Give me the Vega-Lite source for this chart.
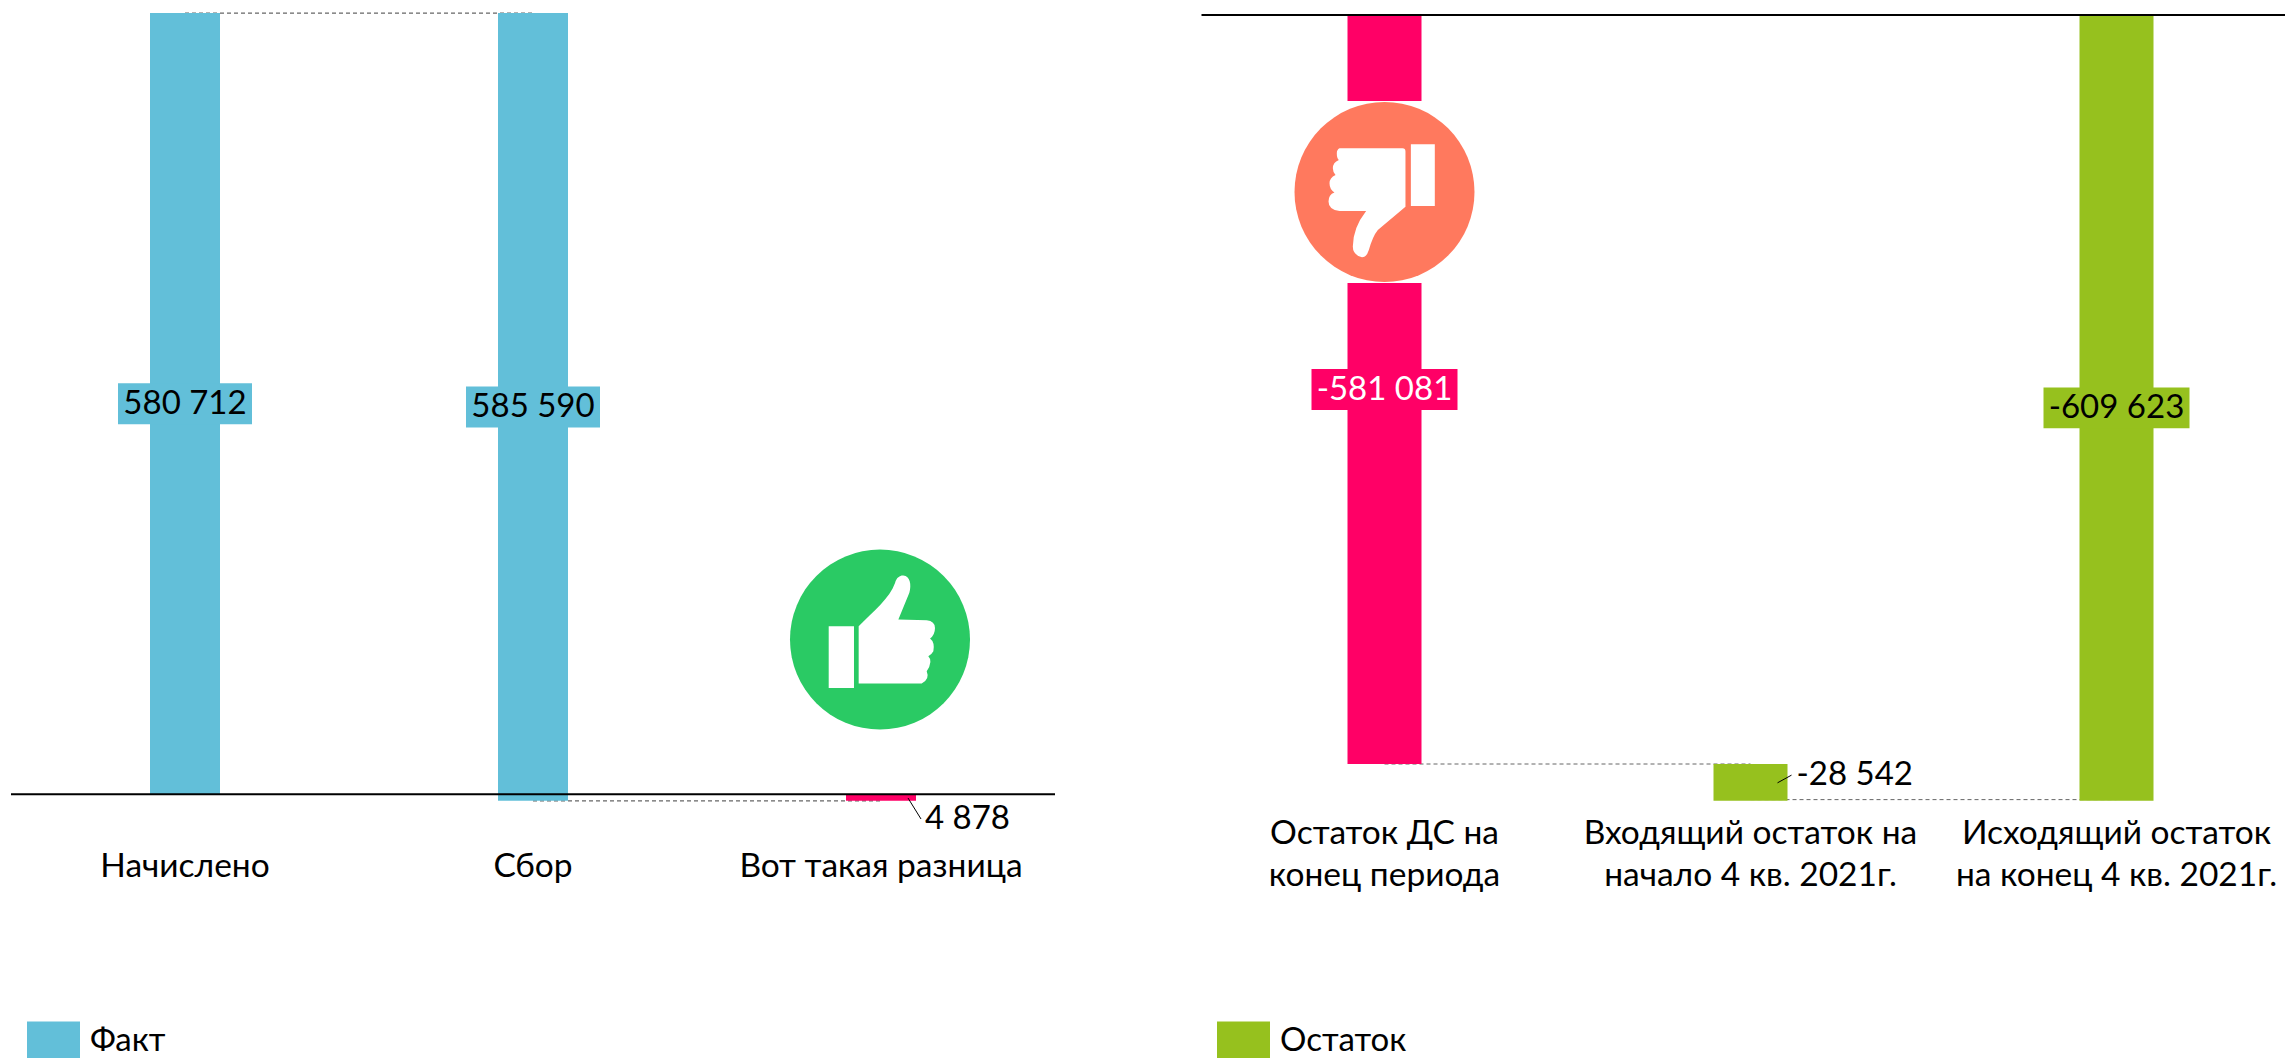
{
"$schema":"https://vega.github.io/schema/vega-lite/v6.json",
"background":"white",
"padding":{"left":10,"top":0,"right":0,"bottom":0},
"spacing":144.5,
"resolve":{"scale":{"color":"independent"},"legend":{"color":"independent"}},
"config":{"view":{"stroke":null},"font":"Lato","text":{"font":"Lato"},"axisY":{"disable":true}},
"datasets":{
"left":[
{"cat":"Начислено","start":0,"end":580712,"mid":290356,"label":"580 712","series":"Факт"},
{"cat":"Сбор","start":-4878,"end":580712,"mid":287917,"label":"585 590","series":"Факт"},
{"cat":"Вот такая разница","start":0,"end":-4878,"mid":-2439,"label":"4 878","series":"Разница"}],
"right":[
{"cat":"Остаток ДС на конец  периода","start":0,"end":-581081,"mid":-290540,"label":"-581 081","series":"Остаток ДС"},
{"cat":"Входящий  остаток на начало 4 кв. 2021г.","start":-581081,"end":-609623,"mid":-595352,"label":"-28 542","series":"Остаток"},
{"cat":"Исходящий остаток на конец 4 кв. 2021г.","start":0,"end":-609623,"mid":-304811,"label":"-609 623","series":"Остаток"}]
},
"hconcat":[
{"width":1044,"height":845,
"layer":[
{"data":{"values":[{"a":"Начислено","b":"Сбор","v":580712},{"a":"Сбор","b":"Вот такая разница","v":-4878}]},
 "mark":{"type":"rule","stroke":"#666666","strokeWidth":1.2,"strokeDash":[4,3]},
 "encoding":{"x":{"field":"a","type":"nominal","sort":["Начислено","Сбор","Вот такая разница"],"scale":{"paddingInner":0,"paddingOuter":0},"axis":{"title":null,"domain":false,"ticks":false,"labelAngle":0,"labelFont":"Lato","labelFontSize":33.5,"labelColor":"black","labelPadding":5,"labelLimit":500}},"x2":{"field":"b"},"y":{"field":"v","type":"quantitative","scale":{"domain":[-37684,590395],"nice":false,"zero":false}}}},
{"data":{"name":"left"},"mark":{"type":"bar","size":70},
 "encoding":{"x":{"field":"cat","type":"nominal","sort":null},"y":{"field":"start","type":"quantitative"},"y2":{"field":"end"},
 "color":{"field":"series","type":"nominal","scale":{"domain":["Факт","Разница"],"range":["#62BFD9","#FF0066"]},
 "legend":{"values":["Факт"],"orient":"none","legendX":16,"legendY":1014,"title":null,"symbolType":"M-1,-0.72H1V0.72H-1Z","symbolSize":2809,"symbolStrokeWidth":0,"symbolOpacity":1,"labelFont":"Lato","labelFontSize":33,"labelColor":"black","labelOffset":10}}}},
{"data":{"name":"left"},"transform":[{"filter":"datum.series=='Факт'"}],"mark":{"type":"point","shape":"M-1,-0.306H1V0.306H-1Z","size":17956,"filled":true,"opacity":1,"fill":"#62BFD9","strokeWidth":0},
 "encoding":{"x":{"field":"cat","type":"nominal","sort":null},"y":{"field":"mid","type":"quantitative"}}},
{"data":{"name":"left"},"transform":[{"filter":"datum.series=='Факт'"}],"mark":{"type":"text","font":"Lato","fontSize":33,"fill":"black"},
 "encoding":{"x":{"field":"cat","type":"nominal","sort":null},"y":{"field":"mid","type":"quantitative"},"text":{"field":"label"}}},
{"data":{"values":[{"cat":"Вот такая разница","v":115000}]},"mark":{"type":"point","shape":"circle","size":32400,"filled":true,"opacity":1,"fill":"#2ACA64","strokeWidth":0,"xOffset":-1},"encoding":{"x":{"field":"cat","type":"nominal","sort":null},"y":{"field":"v","type":"quantitative"}}},
{"data":{"values":[{"cat":"Вот такая разница","v":115000}]},"mark":{"type":"point","shape":"M-0.57,-0.148H-0.289V0.537H-0.57ZM-0.237,-0.148C-0.074,-0.315 0.111,-0.463 0.167,-0.63C0.185,-0.696 0.23,-0.715 0.259,-0.711C0.333,-0.704 0.352,-0.611 0.326,-0.519L0.204,-0.222L0.519,-0.215Q0.611,-0.204 0.611,-0.13Q0.611,-0.056 0.556,-0.011Q0.611,0.03 0.593,0.13Q0.57,0.17 0.537,0.185Q0.593,0.24 0.519,0.352Q0.556,0.44 0.463,0.489H-0.237Z","size":32400,"filled":true,"opacity":1,"fill":"white","strokeWidth":0,"xOffset":-1},"encoding":{"x":{"field":"cat","type":"nominal","sort":null},"y":{"field":"v","type":"quantitative"}}},
{"data":{"name":"left"},"transform":[{"filter":"datum.series=='Разница'"}],"mark":{"type":"text","font":"Lato","fontSize":33,"fill":"black","align":"left","xOffset":44},
 "encoding":{"x":{"field":"cat","type":"nominal","sort":null},"y":{"datum":-18400,"type":"quantitative"},"text":{"field":"label"}}},
{"data":{"name":"left"},"transform":[{"filter":"datum.series=='Разница'"}],"mark":{"type":"point","shape":"M-0.62,-1L0.62,1","size":441,"filled":false,"opacity":1,"stroke":"black","strokeWidth":1,"xOffset":33.5},
 "encoding":{"x":{"field":"cat","type":"nominal","sort":null},"y":{"datum":-10550,"type":"quantitative"}}},
{"data":{"values":[{"v":0}]},"mark":{"type":"rule","stroke":"black","strokeWidth":2},"encoding":{"y":{"field":"v","type":"quantitative"}}}
]},
{"width":1084,"height":810,
"layer":[
{"data":{"values":[{"a":"Остаток ДС на конец  периода","b":"Входящий  остаток на начало 4 кв. 2021г.","v":-581081},{"a":"Входящий  остаток на начало 4 кв. 2021г.","b":"Исходящий остаток на конец 4 кв. 2021г.","v":-608700}]},
 "mark":{"type":"rule","stroke":"#666666","strokeWidth":1,"strokeDash":[4,3]},
 "encoding":{"x":{"field":"a","type":"nominal","sort":["Остаток ДС на конец  периода","Входящий  остаток на начало 4 кв. 2021г.","Исходящий остаток на конец 4 кв. 2021г."],"scale":{"range":[0,1098],"paddingInner":0,"paddingOuter":0},"axis":{"title":null,"domain":false,"ticks":false,"labelAngle":0,"labelFont":"Lato","labelFontSize":33.5,"labelColor":"black","labelPadding":7,"labelLimit":500,"labelLineHeight":42,
 "labelExpr":"datum.label=='Остаток ДС на конец  периода'?['Остаток ДС на','конец  периода']:datum.label=='Входящий  остаток на начало 4 кв. 2021г.'?['Входящий  остаток на','начало 4 кв. 2021г.']:['Исходящий остаток','на конец 4 кв. 2021г.']"}},"x2":{"field":"b"},"y":{"field":"v","type":"quantitative","scale":{"domain":[-616757,11637],"nice":false,"zero":false}}}},
{"data":{"name":"right"},"mark":{"type":"bar","size":74},
 "encoding":{"x":{"field":"cat","type":"nominal","sort":null},"y":{"field":"start","type":"quantitative"},"y2":{"field":"end"},
 "color":{"field":"series","type":"nominal","scale":{"domain":["Остаток","Остаток ДС"],"range":["#96C11E","#FF0066"]},
 "legend":{"values":["Остаток"],"orient":"none","legendX":15.5,"legendY":1014,"title":null,"symbolType":"M-1,-0.72H1V0.72H-1Z","symbolSize":2809,"symbolStrokeWidth":0,"symbolOpacity":1,"labelFont":"Lato","labelFontSize":33,"labelColor":"black","labelOffset":10}}}},
{"data":{"values":[{"cat":"Остаток ДС на конец  периода","v":-137300}]},"mark":{"type":"point","shape":"square","size":33124,"filled":true,"opacity":1,"fill":"white","strokeWidth":0},"encoding":{"x":{"field":"cat","type":"nominal","sort":null},"y":{"field":"v","type":"quantitative"}}},
{"data":{"values":[{"cat":"Остаток ДС на конец  периода","v":-137300}]},"mark":{"type":"point","shape":"circle","size":32400,"filled":true,"opacity":1,"fill":"#FF795E","strokeWidth":0},"encoding":{"x":{"field":"cat","type":"nominal","sort":null},"y":{"field":"v","type":"quantitative"}}},
{"data":{"values":[{"cat":"Остаток ДС на конец  периода","v":-137300}]},"mark":{"type":"point","shape":"M0.293,-0.53H0.559V0.156H0.293ZM-0.5,-0.485H0.2Q0.233,-0.485 0.233,-0.45V0.163L-0.074,0.422Q-0.13,0.49 -0.174,0.644Q-0.2,0.726 -0.25,0.726Q-0.352,0.7 -0.352,0.607Q-0.352,0.4 -0.204,0.211H-0.5Q-0.622,0.2 -0.622,0.107Q-0.622,0.03 -0.556,0.007Q-0.611,-0.03 -0.611,-0.096Q-0.611,-0.16 -0.544,-0.189Q-0.574,-0.22 -0.574,-0.263Q-0.574,-0.33 -0.507,-0.356Q-0.53,-0.37 -0.53,-0.43Q-0.53,-0.47 -0.5,-0.485Z","size":32400,"filled":true,"opacity":1,"fill":"white","strokeWidth":0},"encoding":{"x":{"field":"cat","type":"nominal","sort":null},"y":{"field":"v","type":"quantitative"}}},
{"data":{"name":"right"},"transform":[{"filter":"datum.label!='-28 542'"}],"mark":{"type":"point","shape":"M-1,-0.28H1V0.28H-1Z","size":21316,"filled":true,"opacity":1,"strokeWidth":0},
 "encoding":{"x":{"field":"cat","type":"nominal","sort":null},"y":{"field":"mid","type":"quantitative"},"color":{"field":"series","type":"nominal"}}},
{"data":{"name":"right"},"transform":[{"filter":"datum.label!='-28 542'"}],"mark":{"type":"text","font":"Lato","fontSize":33},
 "encoding":{"x":{"field":"cat","type":"nominal","sort":null},"y":{"field":"mid","type":"quantitative"},"text":{"field":"label"},"fill":{"condition":{"test":"datum.series=='Остаток ДС'","value":"white"},"value":"black"}}},
{"data":{"name":"right"},"transform":[{"filter":"datum.label=='-28 542'"}],"mark":{"type":"text","font":"Lato","fontSize":33,"fill":"black","align":"left","xOffset":46},
 "encoding":{"x":{"field":"cat","type":"nominal","sort":null},"y":{"datum":-589600,"type":"quantitative"},"text":{"field":"label"}}},
{"data":{"name":"right"},"transform":[{"filter":"datum.label=='-28 542'"}],"mark":{"type":"point","shape":"M-1,0.55L1,-0.55","size":196,"filled":false,"opacity":1,"stroke":"black","strokeWidth":1,"xOffset":34},
 "encoding":{"x":{"field":"cat","type":"nominal","sort":null},"y":{"datum":-592700,"type":"quantitative"}}},
{"data":{"values":[{"v":0}]},"mark":{"type":"rule","stroke":"black","strokeWidth":2},"encoding":{"y":{"field":"v","type":"quantitative"}}}
]}
]
}
